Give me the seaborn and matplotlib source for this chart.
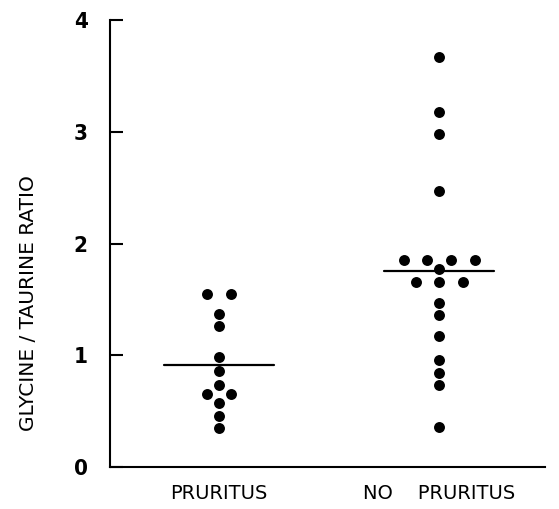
import matplotlib
matplotlib.use("Agg")
import matplotlib.pyplot as plt
import seaborn as sns
import numpy as np
import pandas as pd

categories = ["PRURITUS", "NO    PRURITUS"]
pruritus = [1.55, 1.55, 1.37, 1.26, 0.98, 0.86, 0.735, 0.65, 0.65, 0.57, 0.46, 0.35]
no_pruritus = [3.67, 3.18, 2.98, 2.47, 1.85, 1.85, 1.85, 1.85, 1.77,
               1.66, 1.66, 1.66, 1.47, 1.36, 1.17, 0.96, 0.84, 0.73, 0.36]
y_ticks = [0, 1, 2, 3, 4]

sns.set_theme(style="white")
plt.rcParams['font.family'] = ['DejaVu Sans']
for k in ["text.color", "axes.labelcolor", "xtick.color", "ytick.color"]:
    plt.rcParams[k] = "black"

def spread(vals, idx, step=0.107):
    # place tied values symmetrically around the category centre
    vals = np.asarray(vals)
    xs = np.zeros(len(vals))
    for v in np.unique(vals):
        pos = np.where(vals == v)[0]
        n = len(pos)
        for k, p in enumerate(pos):
            xs[p] = idx + (k - (n - 1) / 2) * step
    return xs

rows = []
for i, (cat, vals) in enumerate(zip(categories, [pruritus, no_pruritus])):
    xs = spread(vals, i)
    for x, v in zip(xs, vals):
        rows.append({"x": x, "ratio": v, "group": cat})
df = pd.DataFrame(rows)

fig = plt.figure(figsize=(5.59, 5.09), dpi=100)
ax = fig.add_axes([0.1968, 0.0825, 0.778, 0.8782])

sns.scatterplot(data=df, x="x", y="ratio", color="black", s=62,
                edgecolor="black", linewidth=0, ax=ax, legend=False)

for i, vals in enumerate([pruritus, no_pruritus]):
    m = float(np.mean(vals))
    ax.plot([i - 0.25, i + 0.25], [m, m], color="black", lw=1.6)

ax.set_xlim(-0.495, 1.48)
ax.set_ylim(0, 4)
ax.set_yticks(y_ticks)
ax.set_yticklabels([str(t) for t in y_ticks], fontsize=16, fontweight="bold",
                   fontstretch="condensed")
ax.set_xticks([0, 1])
ax.set_xticklabels(categories, fontsize=14)
ax.tick_params(axis="y", left=True, direction="in", length=9, width=1.5, pad=16,
               color="black")
ax.tick_params(axis="x", bottom=False, length=0, pad=12.5)
ax.set_xlabel("")
ax.set_ylabel("GLYCINE / TAURINE RATIO", fontsize=14.5)
ax.yaxis.set_label_coords(-0.166, 0.367)

for side in ["top", "right"]:
    ax.spines[side].set_visible(False)
for side in ["left", "bottom"]:
    ax.spines[side].set_color("black")
    ax.spines[side].set_linewidth(1.5)

fig.savefig("out.png", dpi=100)
